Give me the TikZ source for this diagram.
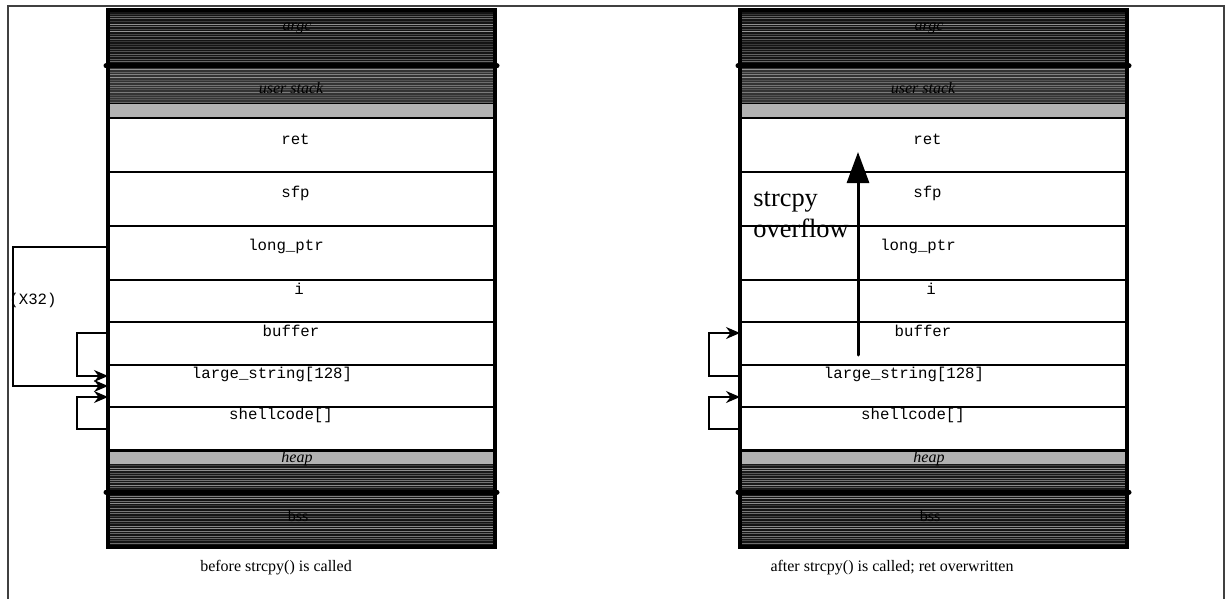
\documentclass[tikz,border=0pt]{standalone}
\usepackage{fontspec}
\setmainfont{Liberation Serif}
\setmonofont{Liberation Mono}
\usetikzlibrary{arrows.meta,positioning}

% dark segment: fill plus uneven light scan lines
\newcommand{\stripes}[4]{%
  \fill[#3] (108,#1) rectangle (495,#2);
  \begin{scope}
    \clip (108,#1) rectangle (495,#2);
    \pgfmathsetseed{#4}
    \foreach \k in {0,...,22}{
      \pgfmathsetmacro{\gv}{int(40+40*rnd)}
      \pgfmathsetmacro{\yy}{#1+1+2.5*\k+0.8*rnd}
      \draw[black!\gv, line width=0.3pt] (108,\yy) -- (495,\yy);
    }
  \end{scope}
}

\tikzset{
  slot/.style={font=\ttfamily\fontsize{7.85}{9}\selectfont, inner sep=0pt},
  seg/.style={font=\itshape\fontsize{8}{9.6}\selectfont, inner sep=0pt},
  caption/.style={font=\fontsize{8}{9.6}\selectfont, inner sep=0pt},
  ptr/.style={line width=0.75pt, -{Stealth[length=7pt,width=6pt]}},
}

\begin{document}
\begin{tikzpicture}[x=0.5pt, y=-0.5pt]
  \useasboundingbox (0,0) rectangle (1225,599);
  \draw[line width=0.75pt, black!75] (8,599) -- (8,6) -- (1224,6) -- (1224,599);

  \foreach \c/\dx in {L/0,R/316}{
    \begin{scope}[xshift=\dx pt]
      % argc, user stack, heap, bss
      \stripes{10}{65}{black!92}{3}
      \stripes{66}{104}{black!80}{5}
      \fill[black!30] (108,104) rectangle (495,118);
      \fill[black!30] (108,450) rectangle (495,464);
      \stripes{464}{492}{black!90}{7}
      \stripes{492}{547}{black!92}{9}

      % stack frame slots
      \draw[line width=0.5pt] (108,104) -- (495,104);
      \foreach \y in {118,172,226,280,322,365,407}
        \draw[line width=1pt] (108,\y) -- (495,\y);
      \draw[line width=1.5pt] (108,450) -- (495,450);
      \draw[line width=2.5pt, line cap=round] (106,66) -- (497,66);
      \draw[line width=2.5pt, line cap=round] (106,492) -- (497,492);
      \draw[line width=1.8pt] (108,10) rectangle (495,547);

      \node[seg] (\c-argc) at (297,28) {argc};
      \node[seg] (\c-ustack) at (291,88) {user stack};
      \node[slot] (\c-ret) at (295.5,139) {ret};
      \node[slot] (\c-sfp) at (295.5,193) {sfp};
      \node[slot] (\c-longptr) at (286,246) {long\_ptr};
      \node[slot] (\c-i) at (299,289) {i};
      \node[slot] (\c-buffer) at (291,331) {buffer};
      \node[slot] (\c-large) at (272,374) {large\_string[128]};
      \node[slot] (\c-shell) at (281,415) {shellcode[]};
      \node[seg] (\c-heap) at (297,459) {heap};
      \node[seg, font=\fontsize{8}{9.6}\selectfont] (\c-bss) at (298,516) {bss};
    \end{scope}
  }

  % pointer ends on the left edge of each stack
  \coordinate (L-ptr-out) at (108,247);
  \coordinate (L-ptr-in) at (108,386);
  \coordinate (L-buf-out) at (108,333);
  \coordinate (L-buf-in) at (108,376);
  \coordinate (L-sc-out) at (108,429);
  \coordinate (L-sc-in) at (108,397);
  \coordinate (R-buf-out) at (740,376);
  \coordinate (R-buf-in) at (740,333);
  \coordinate (R-sc-out) at (740,429);
  \coordinate (R-sc-in) at (740,397);

  \draw[ptr] (L-ptr-out) -- ++(-95,0) |- (L-ptr-in);
  \node[slot] (L-count) at (33,300) {(X32)};
  \draw[ptr] (L-buf-out) -- ++(-31,0) |- (L-buf-in);
  \draw[ptr] (L-sc-out) -- ++(-31,0) |- (L-sc-in);

  \draw[ptr] (R-buf-out) -- ++(-31,0) |- (R-buf-in);
  \draw[ptr] (R-sc-out) -- ++(-31,0) |- (R-sc-in);

  % copy running up over the frame
  \coordinate (R-ov-tail) at (858,355);
  \coordinate (R-ov-head) at (858,152);
  \draw[line width=1.5pt, line cap=round, -{Triangle[length=15.5pt,width=11pt]}]
    (R-ov-tail) -- (R-ov-head);
  \node[anchor=base west, inner sep=0pt, align=left,
        font=\fontsize{13.2}{15.5}\selectfont] (R-note) at (753,237) {strcpy\\overflow};

  \node[caption] (L-caption) at (276,568) {before strcpy() is called};
  \node[caption] (R-caption) at (892,568) {after strcpy() is called; ret overwritten};
\end{tikzpicture}
\end{document}
